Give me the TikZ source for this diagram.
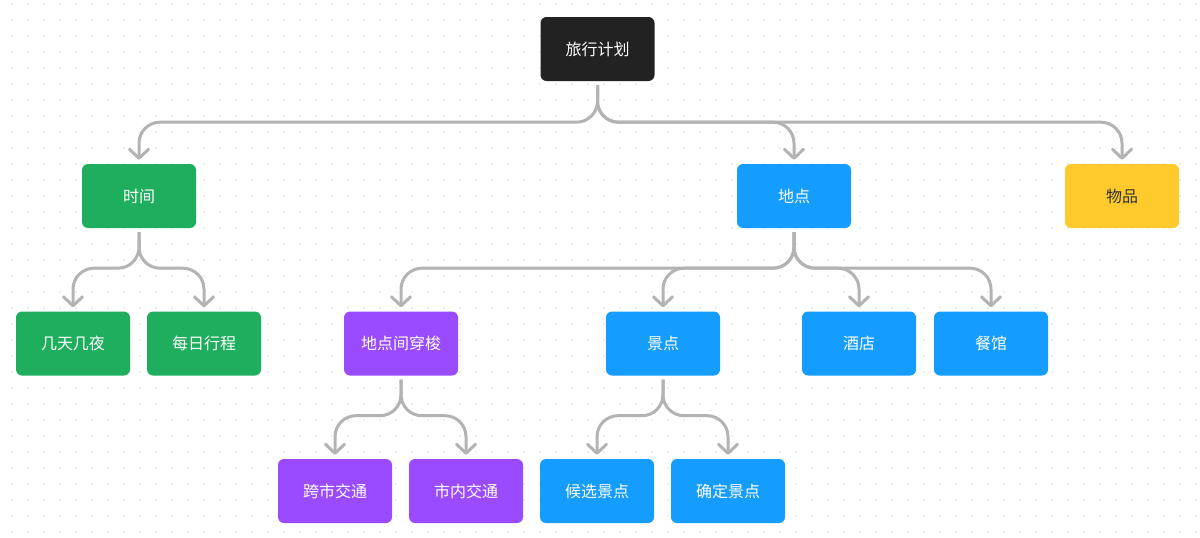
\documentclass[tikz,border=0pt]{standalone}
\usepackage{fontspec}
\newfontfamily\cjk{Noto Sans CJK SC}
\usetikzlibrary{arrows.meta}
\definecolor{rootc}{HTML}{222222}
\definecolor{greenc}{HTML}{1EAE5D}
\definecolor{bluec}{HTML}{149CFF}
\definecolor{purplec}{HTML}{9A4BFF}
\definecolor{yellowc}{HTML}{FFCA2C}
\definecolor{linec}{HTML}{B3B3B3}
\definecolor{dotc}{HTML}{DEDEDE}
\definecolor{darktext}{HTML}{333333}
\tikzset{
  box/.style={rectangle, rounded corners=6pt, minimum width=114pt, minimum height=64pt,
    inner sep=0pt, text=white, font=\cjk\fontsize{16}{19}\selectfont},
  rootbox/.style={box, fill=rootc},
  greenbox/.style={box, fill=greenc},
  bluebox/.style={box, fill=bluec},
  purplebox/.style={box, fill=purplec},
  yellowbox/.style={box, fill=yellowc, text=darktext},
  conn/.style={draw=linec, line width=3pt, rounded corners=21pt,
    shorten <=4pt, shorten >=4pt,
    -{Straight Barb[length=9pt,width=19pt,round]}},
}
\begin{document}
\begin{tikzpicture}[x=1pt,y=-1pt]
\useasboundingbox (0,0) rectangle (1200,538);
\fill[white] (0,0) rectangle (1200,538);
\foreach \x in {12,28,...,1200} {
  \foreach \y in {4,20,...,538} {
    \fill[dotc] (\x,\y) circle (0.9pt);
  }
}
% nodes
\node[rootbox] (root) at (597.5,49) {旅行计划};
\node[greenbox] (time) at (139,196) {时间};
\node[bluebox] (place) at (794,196) {地点};
\node[yellowbox] (items) at (1122,196) {物品};
\node[greenbox] (days) at (73,343.5) {几天几夜};
\node[greenbox] (daily) at (204,343.5) {每日行程};
\node[purplebox] (shuttle) at (401,343.5) {地点间穿梭};
\node[bluebox] (spots) at (663,343.5) {景点};
\node[bluebox] (hotel) at (859,343.5) {酒店};
\node[bluebox] (food) at (991,343.5) {餐馆};
\node[purplebox] (inter) at (335,491) {跨市交通};
\node[purplebox] (intra) at (466,491) {市内交通};
\node[bluebox] (cand) at (597,491) {候选景点};
\node[bluebox] (conf) at (728,491) {确定景点};
% connectors
\draw[conn] (root.south) -- ++(0,41) -| (time.north);
\draw[conn] (root.south) -- ++(0,41) -| (place.north);
\draw[conn] (root.south) -- ++(0,41) -| (items.north);
\draw[conn] (time.south) -- ++(0,40) -| (days.north);
\draw[conn] (time.south) -- ++(0,40) -| (daily.north);
\draw[conn] (place.south) -- ++(0,40) -| (shuttle.north);
\draw[conn] (place.south) -- ++(0,40) -| (spots.north);
\draw[conn] (place.south) -- ++(0,40) -| (hotel.north);
\draw[conn] (place.south) -- ++(0,40) -| (food.north);
\draw[conn] (shuttle.south) -- ++(0,40) -| (inter.north);
\draw[conn] (shuttle.south) -- ++(0,40) -| (intra.north);
\draw[conn] (spots.south) -- ++(0,40) -| (cand.north);
\draw[conn] (spots.south) -- ++(0,40) -| (conf.north);
\end{tikzpicture}
\end{document}
